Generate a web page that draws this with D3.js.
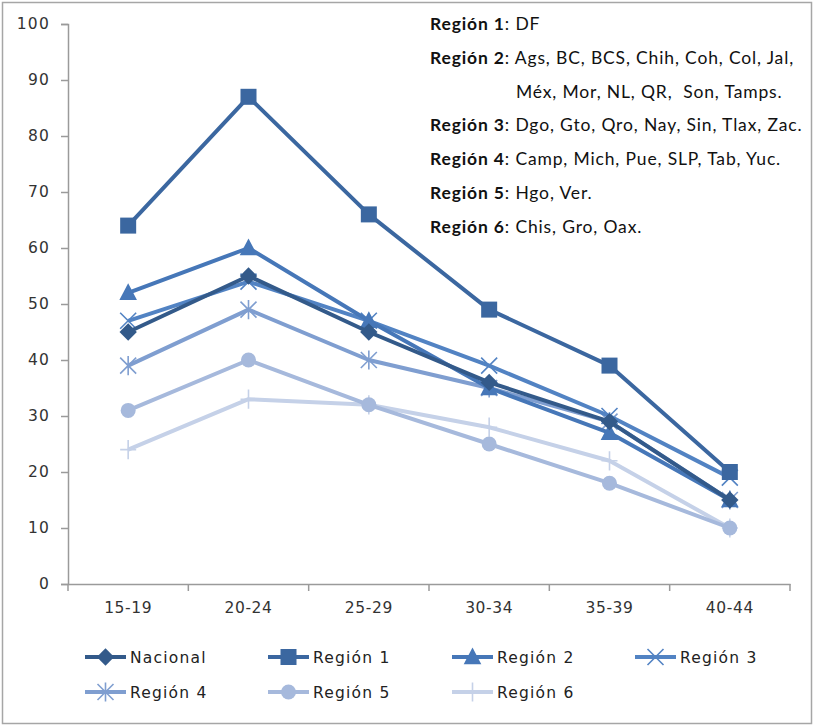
<!DOCTYPE html>
<html>
<head>
<meta charset="utf-8">
<script src="https://cdn.jsdelivr.net/npm/d3@7"></script>
<style>
  html, body { margin: 0; padding: 0; background: #fff; }
  svg { display: block; }
  .notes text { white-space: pre; }
</style>
</head>
<body>
<svg id="chart" width="814" height="726"></svg>
<script>
// Age groups on the x axis
const ageGroups = ["15-19", "20-24", "25-29", "30-34", "35-39", "40-44"];

// Rates per age group
const nacional = [45, 55, 45, 36, 29, 15];
const region1  = [64, 87, 66, 49, 39, 20];
const region2  = [52, 60, 47, 35, 27, 15];
const region3  = [47, 54, 47, 39, 30, 19];
const region4  = [39, 49, 40, 35, 29, 15];
const region5  = [31, 40, 32, 25, 18, 10];
const region6  = [24, 33, 32, 28, 22, 10];

const seriesNames = ["Nacional", "Región 1", "Región 2", "Región 3", "Región 4", "Región 5", "Región 6"];
const yTicks = [0, 10, 20, 30, 40, 50, 60, 70, 80, 90, 100];

// Region membership notes
const notes = [
  ["Región 1", ": DF"],
  ["Región 2", ": Ags, BC, BCS, Chih, Coh, Col, Jal,"],
  ["", "Méx, Mor, NL, QR,  Son, Tamps."],
  ["Región 3", ": Dgo, Gto, Qro, Nay, Sin, Tlax, Zac."],
  ["Región 4", ": Camp, Mich, Pue, SLP, Tab, Yuc."],
  ["Región 5", ": Hgo, Ver."],
  ["Región 6", ": Chis, Gro, Oax."]
];

const colors  = ["#335a8a", "#3b67a0", "#4677b8", "#5283c3", "#7f9ed0", "#a6b9dc", "#c5d1e8"];
const markers = ["diamond", "square", "triangle", "x", "asterisk", "circle", "plus"];

const series = [nacional, region1, region2, region3, region4, region5, region6]
  .map((values, i) => ({ name: seriesNames[i], values, color: colors[i], marker: markers[i] }));

const svg = d3.select("#chart");

// outer chart frame
svg.append("rect")
  .attr("x", 2.5).attr("y", 2.5).attr("width", 809).attr("height", 721)
  .attr("fill", "#fff").attr("stroke", "#a6a6a6").attr("stroke-width", 1.5);

const plotLeft = 68, plotRight = 790, plotTop = 24, plotBottom = 584;

const x = d3.scaleBand().domain(ageGroups).range([plotLeft, plotRight]);
const y = d3.scaleLinear().domain([0, 100]).range([plotBottom, plotTop]);

const axisColor = "#9a9a9a";
const tickFont = "DejaVu Sans, Verdana, sans-serif";

// y axis
const yAxis = svg.append("g")
  .attr("transform", `translate(${plotLeft},0)`)
  .call(d3.axisLeft(y).tickValues(yTicks).tickSize(7).tickPadding(11));
yAxis.select(".domain").attr("stroke", axisColor).attr("stroke-width", 1.5);
yAxis.selectAll(".tick line").attr("stroke", axisColor).attr("stroke-width", 1.5);
yAxis.selectAll(".tick text")
  .attr("font-family", tickFont).attr("font-size", 15.5).attr("fill", "#333")
  .attr("letter-spacing", 1.2);

// x axis: ticks sit on category boundaries
const xAxis = svg.append("g")
  .attr("transform", `translate(0,${plotBottom})`)
  .call(d3.axisBottom(x).tickSize(0).tickPadding(18));
xAxis.select(".domain").attr("stroke", axisColor).attr("stroke-width", 1.5);
xAxis.selectAll(".tick text")
  .attr("font-family", tickFont).attr("font-size", 15.5).attr("fill", "#333")
  .attr("letter-spacing", 0.6);
const bounds = ageGroups.map(d => x(d)).concat([x(ageGroups[ageGroups.length - 1]) + x.bandwidth()]);
svg.append("g").selectAll("line").data(bounds).join("line")
  .attr("x1", d => d).attr("x2", d => d)
  .attr("y1", plotBottom).attr("y2", plotBottom + 7)
  .attr("stroke", axisColor).attr("stroke-width", 1.5);

// marker drawing
function drawMarker(g, type, color, size) {
  const s = size;
  switch (type) {
    case "diamond":
      g.append("path").attr("d", `M0,${-s*0.62}L${s*0.62},0L0,${s*0.62}L${-s*0.62},0Z`).attr("fill", color);
      break;
    case "square":
      g.append("rect").attr("x", -s/2).attr("y", -s/2).attr("width", s).attr("height", s).attr("fill", color);
      break;
    case "triangle":
      g.append("path").attr("d", `M0,${-s*0.6}L${s*0.55},${s*0.45}L${-s*0.55},${s*0.45}Z`).attr("fill", color);
      break;
    case "x":
      g.append("path").attr("d", `M${-s/2},${-s/2}L${s/2},${s/2}M${s/2},${-s/2}L${-s/2},${s/2}`)
        .attr("stroke", color).attr("stroke-width", 1.6).attr("fill", "none");
      break;
    case "asterisk":
      g.append("path").attr("d", `M${-s/2},${-s/2}L${s/2},${s/2}M${s/2},${-s/2}L${-s/2},${s/2}M0,${-s*0.6}L0,${s*0.6}`)
        .attr("stroke", color).attr("stroke-width", 1.6).attr("fill", "none");
      break;
    case "circle":
      g.append("circle").attr("r", s/2).attr("fill", color);
      break;
    case "plus":
      g.append("path").attr("d", `M0,${-s*0.6}L0,${s*0.6}M${-s/2},0L${s/2},0`)
        .attr("stroke", color).attr("stroke-width", 1.6).attr("fill", "none");
      break;
  }
}

const markerSize = { diamond: 14, square: 16, triangle: 16, x: 16, asterisk: 16, circle: 15, plus: 16 };

const line = d3.line()
  .x((d, i) => x(ageGroups[i]) + x.bandwidth() / 2)
  .y(d => y(d));

// draw lighter series first so darker ones sit on top
const order = series.slice().reverse();
const plot = svg.append("g");
order.forEach(s => {
  plot.append("path")
    .attr("d", line(s.values))
    .attr("fill", "none")
    .attr("stroke", s.color)
    .attr("stroke-width", 4)
    .attr("stroke-linejoin", "round");
  s.values.forEach((v, i) => {
    const g = plot.append("g")
      .attr("transform", `translate(${x(ageGroups[i]) + x.bandwidth() / 2},${y(v)})`);
    drawMarker(g, s.marker, s.color, markerSize[s.marker]);
  });
});

// notes block
const noteFont = "Lato, 'Open Sans', sans-serif";
const noteG = svg.append("g").attr("class", "notes")
  .attr("font-family", noteFont).attr("font-size", 17.5).attr("fill", "#111");
notes.forEach((n, i) => {
  const t = noteG.append("text")
    .attr("x", n[0] ? 430 : 516)
    .attr("y", 30 + i * 33.8)
    .attr("letter-spacing", 0.85);
  if (n[0]) t.append("tspan").attr("font-weight", "bold").text(n[0]);
  t.append("tspan").text(n[1]);
});

// legend
const legendCols = [85, 268, 452, 635];
const legendRows = [657, 692];
const legend = svg.append("g");
series.forEach((s, i) => {
  const cx = legendCols[i % 4];
  const cy = legendRows[Math.floor(i / 4)];
  const g = legend.append("g").attr("transform", `translate(${cx},${cy})`);
  g.append("line").attr("x1", 0).attr("x2", 41).attr("y1", 0).attr("y2", 0)
    .attr("stroke", s.color).attr("stroke-width", 4);
  const m = g.append("g").attr("transform", "translate(20.5,0)");
  drawMarker(m, s.marker, s.color, markerSize[s.marker]);
  g.append("text").attr("x", 45).attr("y", 0).attr("dy", "0.36em")
    .attr("font-family", tickFont).attr("font-size", 15.5).attr("fill", "#222")
    .attr("letter-spacing", 1.2)
    .text(s.name);
});
</script>
</body>
</html>
